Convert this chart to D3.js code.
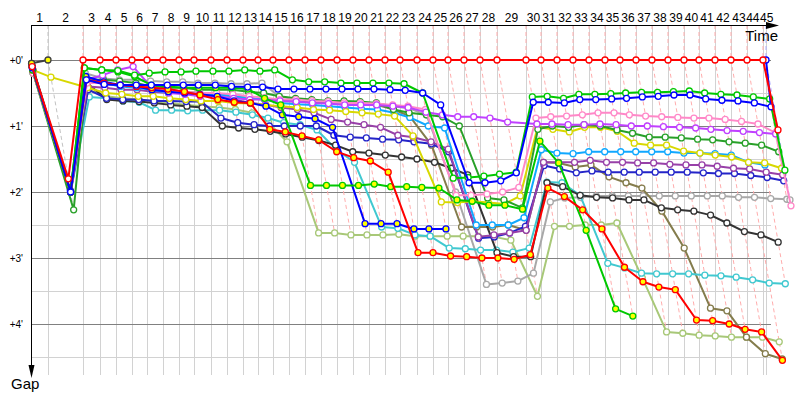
<!DOCTYPE html>
<html><head><meta charset="utf-8">
<script src="https://cdn.jsdelivr.net/npm/d3@7"></script>
<style>body{margin:0;background:#fff}svg{display:block}</style>
</head><body>
<svg id="chart" width="800" height="400"></svg>
<script>
// Leader's cumulative race time (seconds) at the end of each lap, lap 0..45
const lapEndSec = [0, 90.3, 276.1, 366.4, 451.3, 536.3, 615.9, 700.9, 785.8, 865.5, 955.8,
  1040.7, 1125.7, 1205.3, 1284.9, 1369.9, 1454.9, 1539.8, 1624.8, 1709.7, 1794.7,
  1879.6, 1959.3, 2049.6, 2134.5, 2214.2, 2299.1, 2384.1, 2474.3, 2628.3, 2708.0,
  2792.9, 2877.9, 2962.8, 3047.8, 3127.4, 3212.4, 3297.3, 3382.3, 3467.3, 3546.9,
  3631.9, 3716.8, 3801.8, 3886.7, 3902.7];
const lapLabels = ["1","2","3","4","5","6","7","8","9","10","11","12","13","14","15","16","17","18","19","20",
  "21","22","23","24","25","26","27","28","29","30","31","32","33","34","35","36","37","38","39","40",
  "41","42","43","44","45"];
const gapTicks = [0, 1, 2, 3, 4];
const gapTickLabels = ["+0'", "+1'", "+2'", "+3'", "+4'"];
const gapMinorTicks = [0.5, 1.5, 2.5, 3.5, 4.5];

// Gap to leader (minutes) per lap, starting at lap 0
const gapRed = [0.1, 1.8, 0,0,0,0,0,0,0,0,0,0,0,0,0,0,0,0,0,0,0,0,0,0,0,0,0,0,0,0,0,0,0,0,0,0,0,0,0,0,0,0,0,0,0, 1.06];
const gapBlue = [0.12, 2.0, 0.3, 0.37, 0.38, 0.38, 0.38, 0.38, 0.38, 0.38, 0.38, 0.4, 0.41, 0.41, 0.44, 0.44, 0.44, 0.44, 0.44, 0.44, 0.44, 0.45, 0.46, 0.5, 0.68, 1.86, 1.86, 1.83, 1.71, 0.64, 0.64, 0.65, 0.6, 0.6, 0.59, 0.58, 0.56, 0.55, 0.53, 0.53, 0.59, 0.61, 0.62, 0.65, 0.71, 0];
const gapGreen = [0.15, 2.0, 0.12, 0.15, 0.16, 0.23, 0.2, 0.18, 0.18, 0.17, 0.17, 0.17, 0.15, 0.17, 0.15, 0.3, 0.33, 0.33, 0.35, 0.35, 0.35, 0.35, 0.36, 0.5, 1.79, 1.78, 1.76, 1.73, 1.7, 0.56, 0.55, 0.58, 0.52, 0.52, 0.51, 0.5, 0.49, 0.49, 0.48, 0.47, 0.5, 0.52, 0.53, 0.56, 0.59, 1.67];
const gapViolet = [0.1, 2.0, 0.3, 0.23, 0.15, 0.1, 0.42, 0.5, 0.52, 0.55, 0.55, 0.58, 0.6, 0.6, 0.62, 0.63, 0.65, 0.66, 0.68, 0.68, 0.68, 0.7, 0.72, 0.79, 0.83, 0.86, 0.86, 0.88, 0.94, 0.97, 0.97, 0.98, 0.98, 0.97, 0.98, 1.0, 1.0, 1.01, 1.02, 1.03, 1.05, 1.07, 1.08, 1.1, 1.12];
const gapPink = [0.2, 2.0, 0.35, 0.35, 0.38, 0.4, 0.42, 0.45, 0.48, 0.5, 0.5, 0.52, 0.55, 0.57, 0.6, 0.6, 0.62, 0.63, 0.65, 0.65, 0.66, 0.68, 0.7, 0.75, 2.05, 2.05, 2.03, 2.0, 1.93, 0.88, 0.86, 0.85, 0.83, 0.8, 0.8, 0.83, 0.85, 0.86, 0.87, 0.88, 0.88, 0.9, 0.93, 0.97, 1.1, 2.21];
const gapForest = [0.2, 2.27, 0.3, 0.3, 0.32, 0.35, 0.4, 0.42, 0.42, 0.45, 0.45, 0.45, 0.48, 0.5, 0.55, 0.58, 0.6, 0.62, 0.62, 0.63, 0.65, 0.75, 0.8, 0.83, 0.86, 1.0, 2.09, 2.12, 2.24, 1.05, 1.0, 1.02, 0.98, 1.0, 1.06, 1.11, 1.17, 1.17, 1.18, 1.2, 1.21, 1.24, 1.26, 1.29, 1.39];
const gapYellow = [0.15, 0.26, 0.42, 0.5, 0.52, 0.55, 0.55, 0.58, 0.6, 0.62, 0.62, 0.65, 0.66, 0.68, 0.7, 0.72, 0.75, 0.76, 0.78, 0.8, 0.82, 0.85, 1.15, 2.15, 2.16, 2.14, 2.16, 2.18, 2.06, 1.02, 1.05, 1.09, 1.02, 1.02, 1.08, 1.26, 1.29, 1.29, 1.38, 1.41, 1.44, 1.47, 1.55, 1.56, 1.64];
const gapLightBlue = [0.1, 2.0, 0.25, 0.35, 0.4, 0.42, 0.45, 0.5, 0.5, 0.52, 0.52, 0.55, 0.58, 0.6, 0.65, 0.67, 0.68, 0.7, 0.72, 0.74, 0.75, 0.8, 0.87, 1.0, 1.03, 2.5, 2.5, 2.5, 2.39, 1.36, 1.41, 1.42, 1.39, 1.39, 1.39, 1.39, 1.39, 1.39, 1.41, 1.41, 1.42, 1.44, 1.55, 1.59];
const gapPurple = [0.2, 2.0, 0.4, 0.42, 0.45, 0.45, 0.48, 0.5, 0.5, 0.52, 0.55, 0.6, 0.65, 0.68, 0.72, 0.75, 0.8, 0.9, 0.94, 0.98, 1.02, 1.14, 1.17, 1.24, 1.35, 2.68, 2.65, 2.62, 2.58, 1.55, 1.55, 1.55, 1.52, 1.55, 1.55, 1.56, 1.56, 1.58, 1.59, 1.59, 1.61, 1.64, 1.65, 1.7, 1.74];
const gapNavy = [0.15, 2.0, 0.45, 0.58, 0.6, 0.6, 0.62, 0.62, 0.63, 0.63, 0.88, 0.95, 0.98, 1.0, 1.0, 1.0, 1.0, 1.14, 1.17, 1.18, 1.2, 1.21, 1.24, 1.27, 1.39, 2.7, 2.68, 2.62, 2.52, 1.6, 1.65, 1.71, 1.68, 1.7, 1.7, 1.7, 1.7, 1.7, 1.7, 1.71, 1.72, 1.72, 1.75, 1.78, 1.83];
const gapGray = [0.1, 2.0, 0.2, 0.28, 0.3, 0.3, 0.32, 0.33, 0.33, 0.35, 0.35, 0.36, 0.36, 0.35, 0.55, 0.6, 0.62, 0.64, 0.66, 0.66, 0.65, 0.7, 0.73, 0.83, 2.0, 3.4, 3.38, 3.35, 3.23, 2.15, 2.09, 2.08, 2.06, 2.06, 2.06, 2.06, 2.06, 2.06, 2.06, 2.06, 2.06, 2.08, 2.08, 2.1, 2.11, 2.12];
const gapBlack = [0.05, 2.0, 0.35, 0.6, 0.62, 0.63, 0.65, 0.68, 0.7, 0.72, 1.0, 1.03, 1.05, 1.08, 1.12, 1.17, 1.22, 1.29, 1.39, 1.41, 1.44, 1.47, 1.5, 1.55, 1.64, 1.74, 2.92, 2.98, 2.98, 1.86, 1.92, 2.05, 2.08, 2.09, 2.12, 2.12, 2.24, 2.27, 2.29, 2.35, 2.47, 2.6, 2.65, 2.76];
const gapOlive = [0.1, 2.0, 0.3, 0.35, 0.38, 0.4, 0.42, 0.45, 0.48, 0.5, 0.52, 0.55, 0.58, 0.6, 0.62, 0.63, 0.64, 0.64, 0.64, 0.66, 0.68, 0.75, 0.85, 1.29, 2.53, 2.53, 2.53, 2.5, 2.58, 1.55, 1.56, 1.62, 1.59, 1.77, 1.86, 1.94, 2.29, 2.85, 3.76, 3.8, 4.2, 4.45, 4.53];
const gapCyan = [0.2, 2.0, 0.56, 0.58, 0.62, 0.64, 0.76, 0.76, 0.77, 0.76, 0.76, 0.79, 0.83, 0.88, 0.95, 0.98, 1.06, 1.36, 1.55, 2.53, 2.55, 2.65, 2.67, 2.85, 2.86, 2.88, 2.88, 2.91, 2.85, 1.85, 1.86, 2.05, 3.08, 3.15, 3.23, 3.24, 3.24, 3.24, 3.26, 3.27, 3.29, 3.33, 3.38, 3.39];
const gapRedY = [0.15, 2.0, 0.3, 0.35, 0.38, 0.4, 0.42, 0.44, 0.48, 0.53, 0.6, 0.64, 0.65, 1.05, 1.09, 1.15, 1.21, 1.39, 1.48, 1.53, 1.7, 2.92, 2.92, 2.97, 2.98, 3.0, 3.0, 3.02, 2.95, 1.94, 2.07, 2.27, 2.56, 3.14, 3.36, 3.44, 3.48, 3.94, 3.95, 4.0, 4.08, 4.12, 4.55];
const gapLightOlive = [0.2, 2.0, 0.45, 0.55, 0.58, 0.6, 0.62, 0.65, 0.68, 0.7, 0.72, 0.75, 0.8, 0.95, 1.24, 2.62, 2.62, 2.65, 2.65, 2.65, 2.64, 2.67, 2.67, 2.67, 2.67, 2.67, 2.68, 2.73, 3.58, 2.52, 2.52, 2.5, 2.5, 2.47, 3.3, 4.12, 4.14, 4.17, 4.18, 4.2, 4.2, 4.2, 4.27];
const gapGreenY = [0.1, 2.0, 0.12, 0.15, 0.18, 0.25, 0.38, 0.4, 0.42, 0.42, 0.42, 0.42, 0.44, 0.58, 0.68, 1.9, 1.9, 1.9, 1.9, 1.88, 1.92, 1.92, 1.93, 1.94, 2.12, 2.14, 2.2, 2.2, 2.26, 1.23, 1.56, 2.58, 3.77, 3.88];
const gapBlueY = [0.1, 1.98, 0.25, 0.33, 0.38, 0.4, 0.45, 0.48, 0.5, 0.52, 0.55, 0.62, 0.65, 0.7, 0.83, 0.86, 0.89, 1.02, 2.48, 2.48, 2.48, 2.56, 2.56, 2.56];
const gapBlackY = [0.05, 0];

// drawing order (first = bottom)
const seriesList = [
  {id: "lightolive", gaps: gapLightOlive},
  {id: "gray", gaps: gapGray},
  {id: "olive", gaps: gapOlive},
  {id: "cyan", gaps: gapCyan},
  {id: "black", gaps: gapBlack},
  {id: "navy", gaps: gapNavy},
  {id: "purple", gaps: gapPurple},
  {id: "lightblue", gaps: gapLightBlue},
  {id: "yellow", gaps: gapYellow},
  {id: "forest", gaps: gapForest},
  {id: "pink", gaps: gapPink},
  {id: "violet", gaps: gapViolet},
  {id: "blueY", gaps: gapBlueY},
  {id: "greenY", gaps: gapGreenY},
  {id: "redY", gaps: gapRedY},
  {id: "green", gaps: gapGreen},
  {id: "blue", gaps: gapBlue},
  {id: "blackY", gaps: gapBlackY},
  {id: "red", gaps: gapRed}
];

// styles
const styles = {
  red: {stroke: "#ff0000", fill: "#ffffff"},
  blue: {stroke: "#0000ff", fill: "#ffffff"},
  green: {stroke: "#00c800", fill: "#ffffff"},
  violet: {stroke: "#c040ff", fill: "#ffffff"},
  pink: {stroke: "#ff88c8", fill: "#ffffff"},
  forest: {stroke: "#28a028", fill: "#ffffff"},
  yellow: {stroke: "#d8d800", fill: "#ffffff"},
  lightblue: {stroke: "#10a8ff", fill: "#ffffff"},
  purple: {stroke: "#9840a8", fill: "#ffffff"},
  navy: {stroke: "#2424c8", fill: "#ffffff"},
  gray: {stroke: "#a8a8a8", fill: "#ffffff"},
  black: {stroke: "#333333", fill: "#ffffff"},
  olive: {stroke: "#847c4c", fill: "#ffffff"},
  cyan: {stroke: "#40c8d0", fill: "#ffffff"},
  redY: {stroke: "#ff0000", fill: "#ffff00"},
  lightolive: {stroke: "#a8c878", fill: "#ffffff"},
  greenY: {stroke: "#00c800", fill: "#ffff00"},
  blueY: {stroke: "#0000ff", fill: "#ffff00"},
  blackY: {stroke: "#404040", fill: "#ffff00"}
};

(function () {
const svg = d3.select("#chart");
const pxPerMin = 11.3;
const L0 = 31, TOP0 = 25, gridRight = 771, gridBottom = 375;
const x = d3.scaleLinear().domain([0, 70]).range([L0, L0 + 70 * pxPerMin]);
const y = d3.scaleLinear().domain([0, 4]).range([60, 324]);
const T = lapEndSec.map(s => s / 60);

const g = svg.append("g");

// horizontal grid
g.selectAll(".hmin").data(gapMinorTicks).join("line")
  .attr("x1", L0).attr("x2", gridRight)
  .attr("y1", d => y(d) + 0.5).attr("y2", d => y(d) + 0.5)
  .attr("stroke", "#d2d2d2").attr("stroke-width", 1);
// vertical grid
g.selectAll(".vg").data(d3.range(1, T.length)).join("line")
  .attr("x1", k => Math.round(x(T[k])) + 0.5).attr("x2", k => Math.round(x(T[k])) + 0.5)
  .attr("y1", TOP0).attr("y2", gridBottom)
  .attr("stroke", "#d2d2d2").attr("stroke-width", 1);
g.selectAll(".hmaj").data(gapTicks).join("line")
  .attr("x1", L0).attr("x2", gridRight)
  .attr("y1", d => y(d) + 0.5).attr("y2", d => y(d) + 0.5)
  .attr("stroke", "#808080").attr("stroke-width", 1);

// lap dashed lines
const lapLines = [];
for (let k = 1; k < T.length; k++) {
  const pts = [];
  seriesList.forEach(s => { if (s.gaps[k] != null) pts.push({id: s.id, gap: s.gaps[k]}); });
  if (!pts.length) continue;
  const lead = pts.reduce((a, b) => b.gap < a.gap ? b : a);
  const gmax = d3.max(pts, p => p.gap);
  lapLines.push({k, lead, gmax});
}
g.selectAll(".lapline").data(lapLines).join("path")
  .attr("fill", "none")
  .attr("stroke", d => d3.interpolateRgb(styles[d.lead.id].stroke, "#ffffff")(0.68))
  .attr("stroke-width", 1)
  .attr("stroke-dasharray", "4,3")
  .attr("d", d => `M${x(T[d.k])},${TOP0}L${x(T[d.k] + d.lead.gap)},${y(d.lead.gap)}L${x(T[d.k] + d.gmax)},${y(d.gmax)}`);

// axes
g.append("line").attr("x1", L0).attr("x2", 768).attr("y1", TOP0 + 0.5).attr("y2", TOP0 + 0.5)
  .attr("stroke", "#000").attr("stroke-width", 1);
g.append("path").attr("d", `M766,${TOP0 - 3}L779,${TOP0 + 0.5}L766,${TOP0 + 4}Z`).attr("fill", "#000");
g.append("line").attr("x1", L0 + 0.5).attr("x2", L0 + 0.5).attr("y1", TOP0).attr("y2", 368)
  .attr("stroke", "#000").attr("stroke-width", 1);
g.append("path").attr("d", `M${L0 - 2.5},365L${L0 + 0.5},378L${L0 + 3.5},365Z`).attr("fill", "#000");

// lap labels (centred in each lap interval, nudged apart where they would collide)
const lapText = g.selectAll(".lapLabel").data(lapLabels).join("text")
  .attr("x", (d, i) => (x(T[i]) + x(T[i + 1])) / 2)
  .attr("y", 22)
  .attr("text-anchor", "middle")
  .attr("font-family", "Liberation Sans, Arial, sans-serif")
  .attr("font-size", 12)
  .attr("fill", "#000")
  .text(d => d);
const nodes = lapText.nodes();
const cx = nodes.map((n, i) => (x(T[i]) + x(T[i + 1])) / 2);
const w = nodes.map(n => n.getComputedTextLength());
for (let i = nodes.length - 1; i > 0; i--) {
  const overlap = (cx[i - 1] + w[i - 1] / 2) - (cx[i] - w[i] / 2) + 0.5;
  if (overlap > 0) { cx[i - 1] -= overlap / 2; cx[i] += overlap / 2; }
}
for (let i = 1; i < nodes.length; i++) {
  const overlap = (cx[i - 1] + w[i - 1] / 2) - (cx[i] - w[i] / 2) + 0.5;
  if (overlap > 0) { cx[i - 1] -= overlap; }
}
nodes.forEach((n, i) => n.setAttribute("x", cx[i]));

// gap labels
g.selectAll(".gapLabel").data(gapTicks).join("text")
  .attr("x", 23)
  .attr("y", d => y(d))
  .attr("dy", "0.35em")
  .attr("text-anchor", "end")
  .attr("font-family", "Liberation Sans, Arial, sans-serif")
  .attr("font-size", 10)
  .attr("fill", "#000")
  .text((d, i) => gapTickLabels[i]);

g.append("text").attr("x", 778).attr("y", 41).attr("text-anchor", "end")
  .attr("font-family", "Liberation Sans, Arial, sans-serif").attr("font-size", 15).text("Time");
g.append("text").attr("x", 11).attr("y", 389)
  .attr("font-family", "Liberation Sans, Arial, sans-serif").attr("font-size", 15).text("Gap");

// series
const line = d3.line().x(d => x(T[d.lap] + d.gap)).y(d => y(d.gap));
seriesList.forEach(s => {
  const st = styles[s.id];
  const pts = s.gaps.map((v, i) => ({lap: i, gap: v})).filter(p => p.gap != null);
  const sg = g.append("g");
  sg.append("path").datum(pts).attr("d", line)
    .attr("fill", "none").attr("stroke", st.stroke).attr("stroke-width", 2).attr("stroke-linejoin", "round");
  sg.selectAll("circle").data(pts).join("circle")
    .attr("cx", d => x(T[d.lap] + d.gap)).attr("cy", d => y(d.gap)).attr("r", 3)
    .attr("fill", st.fill).attr("stroke", st.stroke).attr("stroke-width", 1.3);
});
})();
</script>
</body></html>
